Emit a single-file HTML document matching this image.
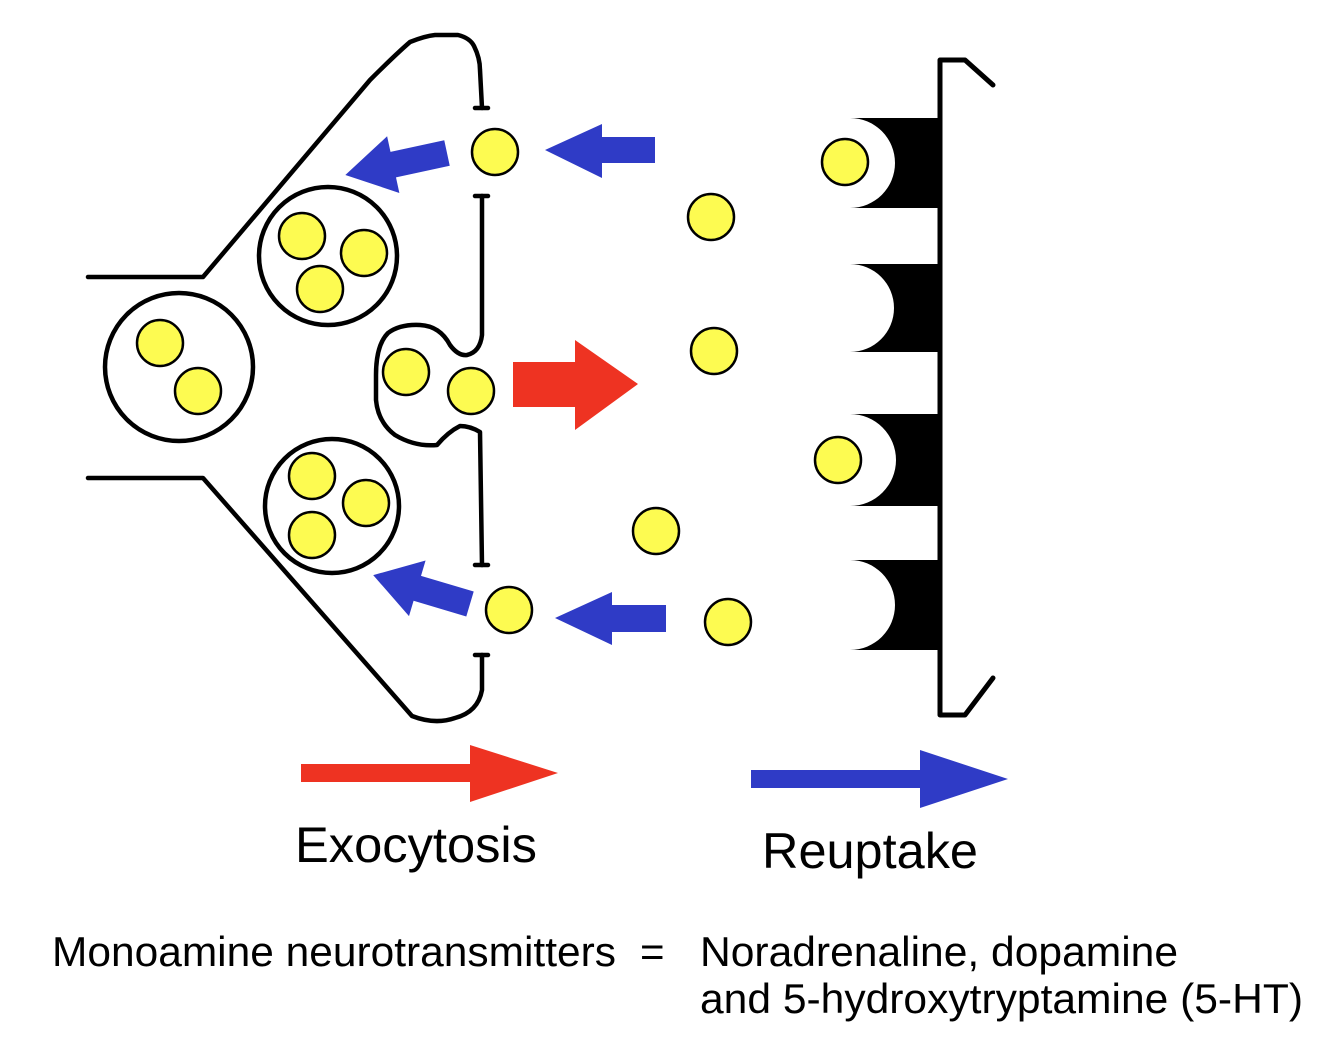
<!DOCTYPE html>
<html><head><style>body{margin:0;background:#fff}svg{display:block}</style></head><body>
<svg width="1334" height="1057" viewBox="0 0 1334 1057" xmlns="http://www.w3.org/2000/svg">
<g fill="none" stroke="#000" stroke-width="4.5" stroke-linejoin="round" stroke-linecap="round">
<path d="M88,277 L203,277 L370,80 Q395,55 410,42 Q425,36 435,35 L458,35 Q470,38 474,46 Q480,58 480,70 L482,108"/>
<path d="M475,108 H488 M475,196 H488"/>
<path d="M482,196 L482,335 Q480,352 467,355 Q458,356 450,345 Q440,326 420,325 Q400,324 388,333 Q376,345 376,375 L376,400 Q378,422 395,435 Q415,447 437,445 Q448,432 460,426 Q470,426 480,432 L482,565"/>
<path d="M475,565 H488 M475,655 H488"/>
<path d="M482,655 L482,690 Q478,712 455,718 Q435,725 412,716 L203,478 L88,478"/>
<path stroke-width="5" d="M940,715 L940,60 L965,60 L993,85 M940,715 L965,715 L993,678"/>
<circle cx="179" cy="367" r="74"/>
<circle cx="328" cy="256" r="69"/>
<circle cx="332" cy="506" r="67"/>
</g>
<g fill="#000">
<path d="M850,118 H940 V208 H850 A45,45 0 0 0 850,118 Z"/>
<path d="M850,264 H940 V352 H850 A44,44 0 0 0 850,264 Z"/>
<path d="M850,414 H940 V506 H850 A46,46 0 0 0 850,414 Z"/>
<path d="M850,560 H940 V650 H850 A45,45 0 0 0 850,560 Z"/>
</g>
<g fill="#fdfb51" stroke="#000" stroke-width="2.5">
<circle cx="160" cy="343" r="23"/><circle cx="198" cy="391" r="23"/>
<circle cx="302" cy="236" r="23"/><circle cx="364" cy="253" r="23"/><circle cx="320" cy="289" r="23"/>
<circle cx="312" cy="476" r="23"/><circle cx="366" cy="503" r="23"/><circle cx="312" cy="535" r="23"/>
<circle cx="406" cy="372" r="23"/><circle cx="471" cy="391" r="23"/>
<circle cx="495" cy="152" r="23"/><circle cx="711" cy="217" r="23"/><circle cx="714" cy="351" r="23"/>
<circle cx="845" cy="162" r="23"/><circle cx="838" cy="460" r="23"/><circle cx="656" cy="531" r="23"/>
<circle cx="509" cy="610" r="23"/><circle cx="728" cy="622" r="23"/>
</g>
<g fill="#2f3bc6">
<polygon points="655,137 602,137 602,124 545,150 602,178 602,163 655,163"/>
<polygon points="666,605 612,605 612,592 555,618 612,645 612,632 666,632"/>
<g transform="translate(447,153) rotate(167.8)"><polygon points="0,-13 55,-13 55,-29 104,0 55,29 55,13 0,13"/></g>
<g transform="translate(470,604) rotate(196.6)"><polygon points="0,-13 55,-13 55,-29 101,0 55,29 55,13 0,13"/></g>
<polygon points="751,770 920,770 920,750 1008,779 920,808 920,788 751,788"/>
</g>
<g fill="#ee3322">
<polygon points="513,362 575,362 575,340 638,384 575,430 575,407 513,407"/>
<polygon points="301,764 470,764 470,745 558,773 470,802 470,782 301,782"/>
</g>
<g font-family="Liberation Sans, sans-serif" fill="#000">
<text x="295" y="862" font-size="50" textLength="242" lengthAdjust="spacingAndGlyphs">Exocytosis</text>
<text x="762" y="868" font-size="50" textLength="216" lengthAdjust="spacingAndGlyphs">Reuptake</text>
<text x="52" y="966" font-size="42" textLength="564" lengthAdjust="spacingAndGlyphs">Monoamine neurotransmitters</text>
<text x="640" y="966" font-size="42">=</text>
<text x="700" y="966" font-size="42" textLength="478" lengthAdjust="spacingAndGlyphs">Noradrenaline, dopamine</text>
<text x="700" y="1013" font-size="42" textLength="603" lengthAdjust="spacingAndGlyphs">and 5-hydroxytryptamine (5-HT)</text>
</g>
</svg>
</body></html>
